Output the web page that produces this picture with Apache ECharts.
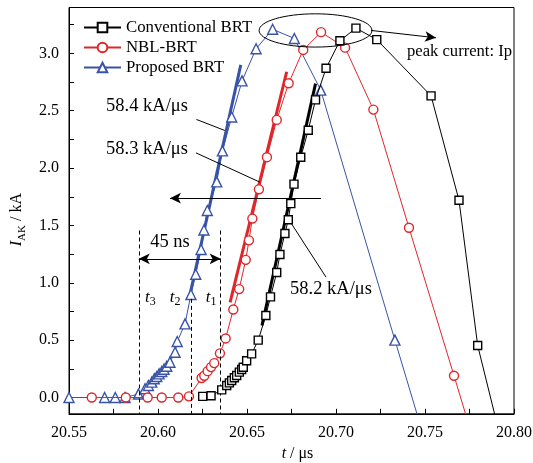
<!DOCTYPE html>
<html>
<head>
<meta charset="utf-8">
<script src="https://cdn.jsdelivr.net/npm/echarts@6/dist/echarts.min.js"></script>
<style>
  html, body { margin: 0; padding: 0; background: #fff; }
  #chart { width: 533px; height: 463px; }
</style>
</head>
<body>
<div id="chart"></div>
<script>
// Anode current I_AK (kA) versus time t (µs) for the three devices: [t, I]
const conventionalBRT = [
  [20.6251, 0.01], [20.6298, 0.015], [20.6358, 0.067], [20.6386, 0.105], [20.6401, 0.128],
  [20.6414, 0.148], [20.6429, 0.172], [20.6442, 0.192], [20.6457, 0.221], [20.6470, 0.244],
  [20.6479, 0.264], [20.6498, 0.32], [20.6526, 0.38], [20.6563, 0.50], [20.6606, 0.715],
  [20.6632, 0.877], [20.6667, 1.09], [20.6685, 1.247], [20.6713, 1.43], [20.6732, 1.55],
  [20.6746, 1.69], [20.6764, 1.86], [20.6802, 2.095], [20.6844, 2.33], [20.6885, 2.595],
  [20.6944, 2.87], [20.7022, 3.11], [20.7112, 3.22], [20.7229, 3.12], [20.7534, 2.63],
  [20.7691, 1.72], [20.7796, 0.453], [20.7900, -0.2]
];
const nblBRT = [
  [20.5628, 0], [20.5819, 0], [20.5942, 0], [20.6021, 0], [20.6114, 0], [20.6174, 0.01],
  [20.6245, 0.17], [20.6260, 0.19], [20.6279, 0.23], [20.6298, 0.265], [20.6316, 0.30],
  [20.6348, 0.385], [20.6380, 0.515], [20.6423, 0.767], [20.6456, 0.945], [20.6493, 1.20],
  [20.6511, 1.37], [20.6530, 1.56], [20.6567, 1.815], [20.6612, 2.095], [20.6667, 2.42],
  [20.6734, 2.74], [20.6816, 3.03], [20.6916, 3.185], [20.7051, 3.05], [20.7210, 2.51],
  [20.7410, 1.48], [20.7663, 0.19], [20.7739, -0.2]
];
const proposedBRT = [
  [20.5500, 0], [20.5700, 0], [20.5760, 0], [20.5815, 0], [20.5890, 0.03], [20.5927, 0.076],
  [20.5946, 0.105], [20.5965, 0.134], [20.5979, 0.163], [20.5993, 0.183], [20.6006, 0.206],
  [20.6021, 0.227], [20.6034, 0.247], [20.6049, 0.273], [20.6067, 0.308], [20.6096, 0.395],
  [20.6108, 0.488], [20.6152, 0.642], [20.6185, 0.898], [20.6212, 1.075], [20.6242, 1.29],
  [20.6258, 1.46], [20.6277, 1.63], [20.6330, 1.88], [20.6362, 2.15], [20.6414, 2.445],
  [20.6472, 2.76], [20.6551, 3.04], [20.6644, 3.21], [20.6766, 3.13], [20.6914, 2.68],
  [20.7331, 0.50], [20.7466, -0.2]
];

// Linear fits of the rising edge (di/dt)
const fitConventional = [[20.6584, 0.628], [20.6885, 2.737]];
const fitNBL = [[20.6405, 0.83], [20.6723, 2.84]];
const fitProposed = [[20.6177, 0.88], [20.6465, 2.90]];

const slopeLabels = ['58.2 kA/\u03bcs', '58.3 kA/\u03bcs', '58.4 kA/\u03bcs'];

// Switching instants t1, t2, t3 (µs)
const t1 = 20.6352, t2 = 20.6188, t3 = 20.5892;

// Axis ticks
const xTicks = [], xLabels = [], yTicks = [], yLabels = [];
for (let i = 0; i <= 10; i++) xTicks.push((2055 + 2.5 * i) / 100);
for (let i = 0; i <= 5; i++) xLabels.push((2055 + 5 * i) / 100);
for (let i = 0; i <= 13; i++) yTicks.push(i * 0.25);
for (let i = 0; i <= 6; i++) yLabels.push(i * 0.5);

const BLACK = '#000000', RED = '#e0262b', BLUE = '#3953a6';
const FONT = 'Liberation Serif';

const chart = echarts.init(document.getElementById('chart'), null, { renderer: 'canvas' });

function dataSeries(name, data, symbol, size, color, z) {
  return {
    name, type: 'line', data, symbol, symbolSize: size, showAllSymbol: true,
    clip: true, z,
    lineStyle: { color, width: 1 },
    itemStyle: { color: '#ffffff', borderColor: color, borderWidth: 1.4 },
    emphasis: { disabled: true }
  };
}
function fitSeries(data, color) {
  return {
    type: 'line', data, symbol: 'none', silent: true, z: 1,
    lineStyle: { color, width: 3 }, emphasis: { disabled: true }
  };
}

const arrowLine = (a, b, sym) => [{ coord: a, symbol: sym[0] }, { coord: b, symbol: sym[1] }];

chart.setOption({
  animation: false,
  backgroundColor: '#ffffff',
  grid: { left: 69, right: 19, top: 7.5, bottom: 49.2, show: true, borderColor: BLACK, borderWidth: 1,
          outerBoundsMode: 'none', containLabel: false },
  legend: {
    data: ['Conventional BRT', 'NBL-BRT', 'Proposed BRT'],
    orient: 'vertical', left: 83, top: 19, padding: 0,
    itemWidth: 37, itemHeight: 12, itemGap: 3, selectedMode: false,
    textStyle: { fontFamily: FONT, fontSize: 16.8, color: BLACK, padding: [0, 0, 0, 0] }
  },
  xAxis: {
    type: 'value', min: 20.55, max: 20.80,
    name: '{i|t}{n| / \u03bcs}', nameLocation: 'middle', nameGap: 31,
    nameTextStyle: {
      fontFamily: FONT, fontSize: 16, color: BLACK, padding: [0, 0, 0, 12],
      rich: {
        i: { fontFamily: FONT, fontSize: 16, fontStyle: 'italic' },
        n: { fontFamily: FONT, fontSize: 16 }
      }
    },
    axisLine: { show: true, onZero: false, lineStyle: { color: BLACK, width: 1 } },
    axisTick: { inside: true, length: 5, customValues: xTicks, lineStyle: { color: BLACK } },
    axisLabel: { customValues: xLabels, formatter: v => v.toFixed(2), fontFamily: FONT, fontSize: 16, color: BLACK, margin: 11 },
    splitLine: { show: false }
  },
  yAxis: {
    type: 'value', min: -0.142, max: 3.4,
    name: '{i|I}{s|AK}{n| / kA}', nameLocation: 'middle', nameGap: 38, nameRotate: 90,
    nameTextStyle: {
      fontFamily: FONT, fontSize: 16, color: BLACK, padding: [0, 18, 0, 0],
      rich: {
        i: { fontFamily: FONT, fontSize: 16, fontStyle: 'italic', lineHeight: 22 },
        s: { fontFamily: FONT, fontSize: 11, verticalAlign: 'bottom', lineHeight: 12 },
        n: { fontFamily: FONT, fontSize: 16, lineHeight: 22 }
      }
    },
    axisLine: { show: true, onZero: false, lineStyle: { color: BLACK, width: 1 } },
    axisTick: { inside: true, length: 5, customValues: yTicks, lineStyle: { color: BLACK } },
    axisLabel: { customValues: yLabels, formatter: v => v.toFixed(1), fontFamily: FONT, fontSize: 16, color: BLACK, margin: 10 },
    splitLine: { show: false }
  },
  series: [
    fitSeries(fitProposed, BLUE),
    fitSeries(fitNBL, RED),
    fitSeries(fitConventional, BLACK),
    dataSeries('Proposed BRT', proposedBRT, 'triangle', 10, BLUE, 3),
    dataSeries('NBL-BRT', nblBRT, 'circle', 9, RED, 4),
    dataSeries('Conventional BRT', conventionalBRT, 'rect', 8, BLACK, 5),
    {
      // annotation lines: switching instants and arrows
      type: 'line', data: [], silent: true, z: 6,
      markLine: {
        silent: true, animation: false, symbolSize: [8, 11],
        label: { show: false },
        lineStyle: { color: BLACK, width: 1, type: 'solid' },
        emphasis: { disabled: true },
        data: [
          [{ coord: [t3, 1.456], symbol: 'none', lineStyle: { type: [4, 3], color: BLACK, width: 1 } }, { coord: [t3, -0.142], symbol: 'none' }],
          [{ coord: [t1, 1.456], symbol: 'none', lineStyle: { type: [4, 3], color: BLACK, width: 1 } }, { coord: [t1, -0.142], symbol: 'none' }],
          [{ coord: [t2, 0.86], symbol: 'none', lineStyle: { type: [4, 3], color: BLACK, width: 1 } }, { coord: [t2, -0.142], symbol: 'none' }],
          arrowLine([t3, 1.209], [t1, 1.209], ['arrow', 'arrow']),
          arrowLine([20.6916, 1.738], [20.6067, 1.738], ['none', 'arrow']),
          arrowLine([20.7197, 3.20], [20.7562, 3.136], ['none', 'arrow']),
          arrowLine([20.6216, 2.424], [20.6375, 2.328], ['none', 'none']),
          arrowLine([20.6213, 2.133], [20.6573, 1.877], ['none', 'none']),
          arrowLine([20.6732, 1.558], [20.6944, 1.049], ['none', 'none'])
        ]
      }
    }
  ]
});

// Text and ellipse annotations anchored to data coordinates
function px(t, i) { return chart.convertToPixel({ gridIndex: 0 }, [t, i]); }
const textStyle = (text, extra) => Object.assign({ text, fontFamily: FONT, fontSize: 18.5, fill: BLACK }, extra || {});
const tRich = {
  i: { fontFamily: FONT, fontSize: 17, fontStyle: 'italic', fill: BLACK, lineHeight: 20 },
  s: { fontFamily: FONT, fontSize: 12, fill: BLACK, verticalAlign: 'bottom', lineHeight: 10 }
};
const ellC = px(20.6885, 3.20), ellR = px(20.7202, 3.055);
const elements = [
  { type: 'ellipse', shape: { cx: ellC[0], cy: ellC[1], rx: ellR[0] - ellC[0], ry: ellR[1] - ellC[1] },
    style: { fill: 'none', stroke: BLACK, lineWidth: 1 }, z: 20, silent: true }
];
function addText(t, i, text, align, extra) {
  const p = px(t, i);
  elements.push({ type: 'text', x: p[0], y: p[1], z: 20, silent: true,
    style: textStyle(text, Object.assign({ align, verticalAlign: 'middle' }, extra || {})) });
}
addText(20.5938, 2.537, slopeLabels[2], 'center');
addText(20.5938, 2.162, slopeLabels[1], 'center');
addText(20.6742, 0.941, slopeLabels[0], 'left');
addText(20.7399, 3.017, 'peak current: Ip', 'left', { fontSize: 16.6 });
addText(20.6067, 1.351, '45 ns', 'center');
addText(20.5957, 0.872, '{i|t}{s|3}', 'center', { rich: tRich });
addText(20.6096, 0.872, '{i|t}{s|2}', 'center', { rich: tRich });
addText(20.6299, 0.872, '{i|t}{s|1}', 'center', { rich: tRich });
chart.setOption({ graphic: { elements } });
</script>
</body>
</html>
